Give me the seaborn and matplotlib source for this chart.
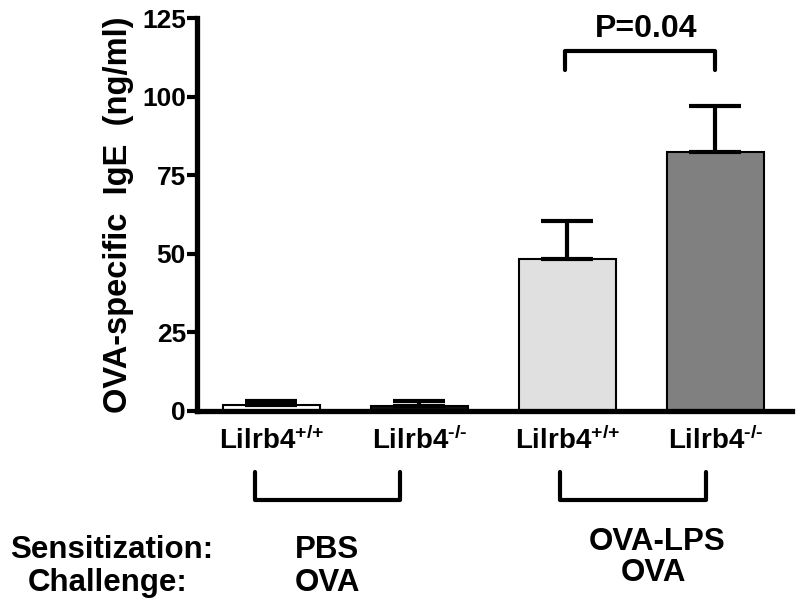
import seaborn as sns
import matplotlib.pyplot as plt
import matplotlib.transforms as mtransforms
import numpy as np
import pandas as pd

# data
groups = ['wt_pbs', 'ko_pbs', 'wt_lps', 'ko_lps']
tick_labels = [r'Lilrb4$^{\text{+/+}}$', r'Lilrb4$^{\text{-/-}}$',
               r'Lilrb4$^{\text{+/+}}$', r'Lilrb4$^{\text{-/-}}$']
ige = [2.0, 1.6, 48.4, 82.5]
sem = [1.3, 1.7, 12.1, 14.6]
bar_colors = ['#ffffff', '#111111', '#e0e0e0', '#808080']
yticks = [0, 25, 50, 75, 100, 125]

sns.set_style('ticks')
plt.rcParams['font.family'] = ['Liberation Sans', 'DejaVu Sans']
plt.rcParams['font.weight'] = 'bold'
plt.rcParams['mathtext.fontset'] = 'custom'
plt.rcParams['mathtext.rm'] = 'Liberation Sans:bold'
plt.rcParams['mathtext.it'] = 'Liberation Sans:bold'
plt.rcParams['mathtext.bf'] = 'Liberation Sans:bold'
plt.rcParams['mathtext.default'] = 'rm'
for key in ['text.color', 'axes.labelcolor', 'xtick.color', 'ytick.color', 'axes.edgecolor']:
    plt.rcParams[key] = 'black'

fig = plt.figure(figsize=(8, 6.07), dpi=100)
ax = fig.add_axes([0.24625, 0.3229, 0.74375, 0.6474])

df = pd.DataFrame({'group': groups, 'ige': ige})
sns.barplot(data=df, x='group', y='ige', hue='group', palette=bar_colors,
            saturation=1, width=0.66, edgecolor='black', linewidth=1.5,
            errorbar=None, legend=False, ax=ax)

# upper-only error bars
x = np.arange(len(groups))
ax.errorbar(x, ige, yerr=[np.zeros(len(sem)), sem], fmt='none', ecolor='black',
            elinewidth=3, capsize=19, capthick=3, zorder=3)

ax.set_ylim(0, 125)
ax.set_xlim(-0.503, 3.517)
ax.set_yticks(yticks)
ax.set_yticklabels([str(t) for t in yticks], fontsize=19, fontweight='bold')
ax.set_xticks(x)
ax.set_xticklabels(tick_labels, fontsize=20, fontweight='bold')
ax.tick_params(axis='x', length=0, pad=11)
ax.tick_params(axis='y', length=7, width=3, pad=1)
ax.set_xlabel('')
ax.set_ylabel('OVA-specific  IgE  (ng/ml)', fontsize=23.5, fontweight='bold', labelpad=6)
sns.despine(ax=ax)
for side in ['left', 'bottom']:
    ax.spines[side].set_linewidth(3.8)

# significance bracket
ax.plot([1.98, 1.98, 3.0, 3.0], [108.6, 114.6, 114.6, 108.6], color='black', lw=3,
        clip_on=False)
ax.text(2.53, 121.5, 'P=0.04', ha='center', va='center', fontsize=23, fontweight='bold')

# group brackets below the axis
trans = mtransforms.blended_transform_factory(ax.transData, ax.transAxes)
for x0, x1 in [(-0.11, 0.868), (1.949, 2.936)]:
    ax.plot([x0, x0, x1, x1], [-0.155, -0.2265, -0.2265, -0.155], color='black', lw=3,
            transform=trans, clip_on=False)

def fy(py):
    return 1 - py / 607

fs = 22.5
fig.text(10 / 800, fy(550), 'Sensitization:', ha='left', va='center', fontsize=fs, fontweight='bold')
fig.text(28 / 800, fy(583), 'Challenge:', ha='left', va='center', fontsize=fs, fontweight='bold')
fig.text(327 / 800, fy(550), 'PBS', ha='center', va='center', fontsize=fs, fontweight='bold')
fig.text(327 / 800, fy(583), 'OVA', ha='center', va='center', fontsize=fs, fontweight='bold')
fig.text(657 / 800, fy(542), 'OVA-LPS', ha='center', va='center', fontsize=fs, fontweight='bold')
fig.text(653 / 800, fy(573), 'OVA', ha='center', va='center', fontsize=fs, fontweight='bold')

fig.savefig('out.png', dpi=100)
